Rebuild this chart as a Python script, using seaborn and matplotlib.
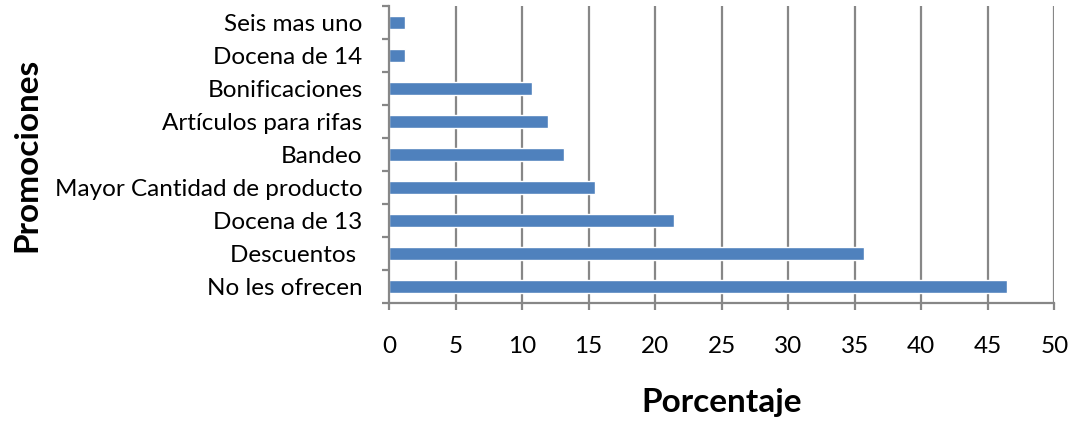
import matplotlib
matplotlib.use("Agg")
import matplotlib.pyplot as plt
import seaborn as sns
import numpy as np
import pandas as pd
from matplotlib.ticker import FixedLocator

# Promotion types (top to bottom) and share of respondents (%)
promociones = [
    "Seis mas uno",
    "Docena de 14",
    "Bonificaciones",
    "Artículos para rifas",
    "Bandeo",
    "Mayor Cantidad de producto",
    "Docena de 13",
    "Descuentos ",
    "No les ofrecen",
]
porcentaje = [1.23, 1.23, 10.73, 11.93, 13.13, 15.47, 21.38, 35.67, 46.44]

x_ticks = list(range(0, 55, 5))

sns.set_theme(style="white")
plt.rcParams["font.family"] = ["Lato", "DejaVu Sans"]

df = pd.DataFrame({"Promociones": promociones, "Porcentaje": porcentaje})

fig = plt.figure(figsize=(10.74, 4.25), dpi=100)
ax = fig.add_axes([0.3622, 0.287, 0.6195, 0.6989])

grid_color = "#878787"
sns.barplot(data=df, x="Porcentaje", y="Promociones", orient="h",
            color="#4F81BD", saturation=1, width=0.4, ax=ax, zorder=3)

ax.set_xlim(0, 50)
ax.set_ylim(len(promociones) - 0.5, -0.5)
ax.xaxis.set_major_locator(FixedLocator(x_ticks))
ax.set_xticklabels([str(t) for t in x_ticks])

# vertical gridlines at every 5 %
for t in x_ticks[1:]:
    ax.axvline(t, color=grid_color, lw=1.6, zorder=1)

for side in ["top", "right"]:
    ax.spines[side].set_visible(False)
for side in ["left", "bottom"]:
    ax.spines[side].set_color(grid_color)
    ax.spines[side].set_linewidth(1.6)
    ax.spines[side].set_zorder(4)

# category labels without marks, tick marks at category boundaries
ax.yaxis.set_minor_locator(FixedLocator(np.arange(-0.5, len(promociones), 1.0)))
ax.tick_params(axis="y", which="major", length=0, pad=19, labelsize=17.5,
               labelcolor="black")
ax.tick_params(axis="y", which="minor", left=True, length=5, width=1.6,
               color=grid_color)
ax.tick_params(axis="x", which="major", bottom=True, length=5, width=1.6,
               color=grid_color, pad=19, labelsize=17.5, labelcolor="black")

ax.set_xlabel("Porcentaje", fontsize=24, fontweight="bold", labelpad=22,
              color="black")
ax.set_ylabel("Promociones", fontsize=24, fontweight="bold", color="black")
ax.yaxis.set_label_coords(-0.522, 0.5)

fig.savefig("out.png", dpi=100, facecolor="white")
